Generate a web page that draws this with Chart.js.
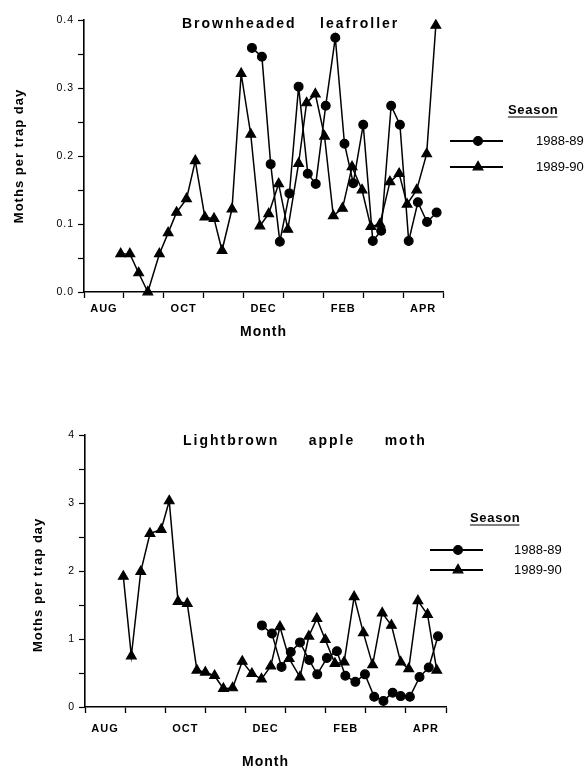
<!DOCTYPE html>
<html><head><meta charset="utf-8">
<script src="https://cdn.jsdelivr.net/npm/chart.js@4.4.1/dist/chart.umd.min.js"></script>
<style>
html,body{margin:0;padding:0;background:#fff;}
#wrap{position:relative;width:585px;height:769px;overflow:hidden;background:#fff;}
canvas{position:absolute;left:0;}
#c1{top:0;} #c2{top:380px;}
</style></head><body>
<div id="wrap"><canvas id="c1" width="585" height="380"></canvas><canvas id="c2" width="585" height="389"></canvas></div>
<script>
// ---- data (x = months since start of August) ----
const months = ['AUG','SEP','OCT','NOV','DEC','JAN','FEB','MAR','APR'];
const seasons = ['1988-89','1989-90'];

const blf8889X = [4.21,4.46,4.68,4.91,5.15,5.38,5.61,5.81,6.06,6.30,6.53,6.75,7.00,7.24,7.45,7.70,7.92,8.14,8.37,8.60,8.84];
const blf8889Y = [0.359,0.346,0.188,0.074,0.145,0.302,0.174,0.159,0.274,0.374,0.218,0.160,0.246,0.075,0.090,0.274,0.246,0.075,0.132,0.103,0.117];
const blf8990X = [0.92,1.15,1.37,1.60,1.89,2.11,2.32,2.57,2.79,3.03,3.26,3.46,3.71,3.94,4.18,4.41,4.63,4.88,5.11,5.38,5.58,5.80,6.03,6.25,6.48,6.72,6.97,7.19,7.42,7.67,7.90,8.10,8.34,8.59,8.82];
const blf8990Y = [0.056,0.056,0.028,0.0,0.056,0.087,0.117,0.137,0.193,0.110,0.108,0.061,0.122,0.321,0.232,0.097,0.115,0.159,0.092,0.189,0.278,0.291,0.229,0.112,0.123,0.184,0.150,0.096,0.100,0.162,0.174,0.129,0.150,0.203,0.392];

const lbam8889X = [4.41,4.66,4.90,5.13,5.36,5.59,5.79,6.03,6.28,6.49,6.74,6.98,7.21,7.44,7.67,7.87,8.10,8.34,8.57,8.80];
const lbam8889Y = [1.20,1.08,0.59,0.81,0.95,0.69,0.48,0.72,0.82,0.46,0.37,0.48,0.15,0.09,0.21,0.16,0.15,0.44,0.58,1.04];
const lbam8990X = [0.955,1.155,1.39,1.62,1.90,2.10,2.32,2.55,2.79,3.00,3.23,3.45,3.68,3.92,4.16,4.40,4.63,4.86,5.09,5.36,5.58,5.78,5.99,6.23,6.46,6.71,6.94,7.17,7.41,7.64,7.87,8.07,8.30,8.54,8.77];
const lbam8990Y = [1.92,0.75,1.99,2.55,2.61,3.03,1.55,1.52,0.54,0.51,0.46,0.27,0.28,0.67,0.49,0.41,0.60,1.18,0.71,0.44,1.04,1.30,0.99,0.64,0.66,1.62,1.09,0.62,1.38,1.20,0.66,0.56,1.56,1.36,0.54];

const FONT = '"Liberation Sans", Arial, Helvetica, sans-serif';

function pts(xs, ys){ return xs.map((x,i)=>({x:x, y:ys[i]})); }

function series(label, xs, ys, style){
  return {label, data: pts(xs,ys), borderColor:'#000', backgroundColor:'#000',
    borderWidth:1.5, pointStyle:style, pointRadius: style==='circle'?4.4:5.6,
    pointBorderWidth:1.2, pointBackgroundColor:'#000', pointBorderColor:'#000',
    tension:0, clip:false};
}

// half-month tick positions: tick marks at month boundaries, labels at month centres
const xTickVals = [];
for (let i=0;i<=months.length;i++){ xTickVals.push(i); if(i<months.length) xTickVals.push(i+0.5); }

function xLabel(v){
  const idx = v-0.5;
  if (Number.isInteger(idx) && idx%2===0) return months[idx];
  return '';
}

function xScale(h, pad){
  return {type:'linear', min:0, max:months.length,
    afterBuildTicks: s => { s.ticks = xTickVals.map(v=>({value:v})); },
    afterFit: s => { s.height = h; },
    grid:{drawOnChartArea:false, drawTicks:true, tickLength:6, tickWidth:1.3,
      tickColor: c => (c.tick && Number.isInteger(c.tick.value)) ? '#000' : 'rgba(0,0,0,0)'},
    border:{display:true, color:'#000', width:1.6},
    ticks:{autoSkip:false, maxRotation:0, minRotation:0, padding:pad, color:'#000',
      font:{family:FONT, size:11, weight:'bold'}, callback: v => xLabel(v)},
    title:{display:true, text:'Month', color:'#000',
      font:{family:FONT, size:14, weight:'bold', lineHeight:1}, padding:0}
  };
}

function yScale(w, max, step, labelStep, digits, titleText, titlePad){
  return {type:'linear', min:0, max:max,
    afterFit: s => { s.width = w; },
    grid:{drawOnChartArea:false, drawTicks:true, tickLength:6, tickWidth:1.2, tickColor:'#000'},
    border:{display:true, color:'#000', width:1.6},
    ticks:{stepSize:step, autoSkip:false, padding:4, color:'#000',
      font:{family:FONT, size:10.5},
      callback: v => { const r = v/labelStep; return Math.abs(r-Math.round(r))<1e-6 ? v.toFixed(digits) : ''; }},
    title:{display:true, text:titleText, color:'#000',
      font:{family:FONT, size:13, weight:'bold', lineHeight:1}, padding:{top:titlePad, bottom:0}}
  };
}

const decor = {
  id:'decor',
  beforeDraw(chart){ chart.ctx.letterSpacing = '1px'; },
  afterDraw(chart, args, o){
    const ctx = chart.ctx;
    ctx.save();
    ctx.fillStyle = '#000'; ctx.strokeStyle = '#000';
    // chart title
    ctx.letterSpacing = '2px';
    ctx.font = 'bold 14px ' + FONT;
    ctx.textAlign = 'left'; ctx.textBaseline = 'alphabetic';
    ctx.fillText(o.title, o.titleX, o.titleY);
    // legend heading
    ctx.letterSpacing = '0.7px';
    ctx.font = 'bold 13px ' + FONT;
    ctx.fillText('Season', o.legX, o.legY);
    const w = ctx.measureText('Season').width;
    ctx.lineWidth = 1.2;
    ctx.beginPath(); ctx.moveTo(o.legX, o.legY+3); ctx.lineTo(o.legX+w-1, o.legY+3); ctx.stroke();
    // legend items
    ctx.letterSpacing = '0px';
    ctx.font = '13px ' + FONT;
    ctx.textBaseline = 'middle';
    chart.data.datasets.forEach((ds,i)=>{
      const y = o.itemY + i*o.itemGap;
      ctx.lineWidth = 1.8;
      ctx.beginPath(); ctx.moveTo(o.lineX0, y); ctx.lineTo(o.lineX1, y); ctx.stroke();
      ctx.lineWidth = ds.pointBorderWidth;
      Chart.helpers.drawPoint(ctx, {pointStyle: ds.pointStyle, radius: ds.pointRadius, borderWidth: ds.pointBorderWidth, rotation:0}, o.markX, y);
      ctx.fillText(ds.label, o.textX, y);
    });
    ctx.restore();
    ctx.letterSpacing = '0px';
  }
};

function makeChart(id, cfg){
  return new Chart(document.getElementById(id), {
    type:'line',
    data:{datasets: cfg.datasets},
    options:{
      responsive:false, animation:false, devicePixelRatio:1,
      layout:{padding: cfg.padding},
      scales:{ x: cfg.x, y: cfg.y },
      plugins:{legend:{display:false}, tooltip:{enabled:false}, title:{display:false}, decor: cfg.decor}
    },
    plugins:[decor]
  });
}

makeChart('c1', {
  datasets:[series(seasons[0], blf8889X, blf8889Y, 'circle'), series(seasons[1], blf8990X, blf8990Y, 'triangle')],
  padding:{left:0, top:20, right:142, bottom:41},
  x: xScale(47, 4),
  y: yScale(84, 0.4, 0.05, 0.1, 1, 'Moths per trap day', 12.5),
  decor:{title:'Brownheaded    leafroller', titleX:182, titleY:28,
    legX:508, legY:114, itemY:141, itemGap:26, lineX0:450, lineX1:503, markX:478, textX:536}
});

makeChart('c2', {
  datasets:[series(seasons[0], lbam8889X, lbam8889Y, 'circle'), series(seasons[1], lbam8990X, lbam8990Y, 'triangle')],
  padding:{left:0, top:55, right:139, bottom:0},
  x: xScale(62, 9),
  y: yScale(85, 4, 0.5, 1, 0, 'Moths per trap day      ', 31.5),
  decor:{title:'Lightbrown     apple     moth', titleX:183, titleY:65,
    legX:470, legY:142, itemY:170, itemGap:20, lineX0:430, lineX1:483, markX:458, textX:514}
});
</script>
</body></html>
